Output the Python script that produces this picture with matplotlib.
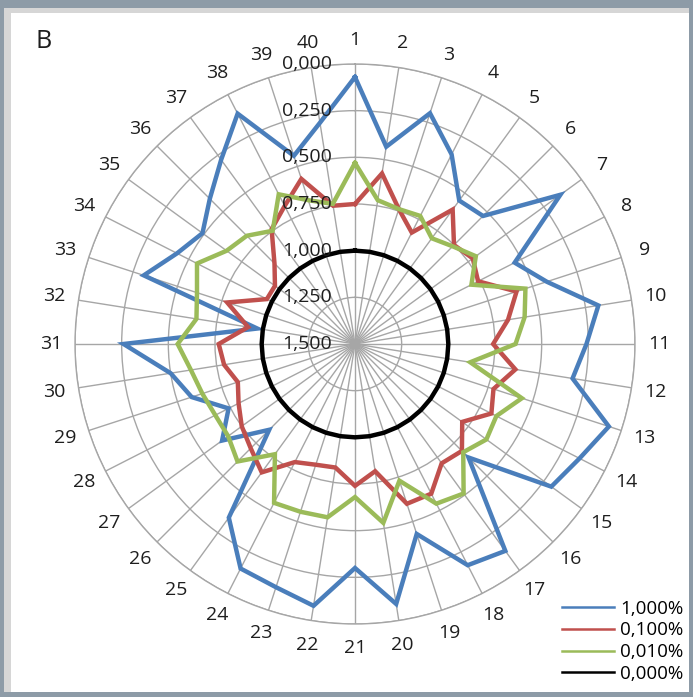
import numpy as np
import matplotlib
matplotlib.use('Agg')
import matplotlib.pyplot as plt
from matplotlib.patches import Rectangle
from matplotlib.lines import Line2D
import matplotlib.transforms as mtransforms

plt.rcParams['font.family'] = ['Open Sans', 'DejaVu Sans']

categories = [str(i) for i in range(1, 41)]

s_1000 = [0.07, 0.43, 0.20, 0.36, 0.55, 0.53, 0.14, 0.54, 0.42, 0.18,
          0.26, 0.32, 0.07, 0.15, 0.20, 0.64, 0.13, 0.17, 0.43, 0.09,
          0.30, 0.08, 0.13, 0.15, 0.35, 0.85, 0.62, 0.74, 0.58, 0.50,
          0.26, 0.97, 0.31, 0.43, 0.49, 0.40, 0.28, 0.115, 0.44, 0.30]
s_0100 = [0.75, 0.575, 0.74, 0.83, 0.61, 0.75, 0.72, 0.76, 0.59, 0.67,
          0.76, 0.63, 0.72, 0.68, 0.79, 0.69, 0.71, 0.60, 0.60, 0.81,
          0.74, 0.83, 0.82, 0.79, 0.65, 0.71, 0.75, 0.80, 0.84, 0.79,
          0.77, 0.92, 0.78, 0.97, 0.97, 0.89, 0.74, 0.67, 0.57, 0.75]
s_0010 = [0.53, 0.72, 0.74, 0.73, 0.80, 0.76, 0.70, 0.80, 0.54, 0.58,
          0.64, 0.875, 0.56, 0.65, 0.63, 0.68, 0.51, 0.54, 0.73, 0.53,
          0.68, 0.56, 0.555, 0.545, 0.77, 0.61, 0.66, 0.66, 0.64, 0.61,
          0.55, 0.64, 0.61, 0.55, 0.65, 0.68, 0.75, 0.60, 0.69, 0.74]
s_0000 = [1.0] * 40

series = [s_1000, s_0100, s_0010, s_0000]
series_labels = ['1,000%', '0,100%', '0,010%', '0,000%']
colors = ['#4A7EBB', '#C0504D', '#9BBB59', '#000000']

rticks = [0.0, 0.25, 0.5, 0.75, 1.0, 1.25, 1.5]
rtick_labels = ['0,000', '0,250', '0,500', '0,750', '1,000', '1,250', '1,500']

W, H = 693, 697
fig = plt.figure(figsize=(W / 100, H / 100), dpi=100)
fig.patch.set_facecolor('#8D9BA7')
fig.patches.append(Rectangle((4 / W, 5 / H), (689 - 4) / W, (689 - 5) / H,
                             transform=fig.transFigure, facecolor='#D6D6D6',
                             edgecolor='none', zorder=-20))
fig.patches.append(Rectangle((11 / W, 5 / H), (689 - 11) / W, (688 - 9) / H,
                             transform=fig.transFigure, facecolor='white',
                             edgecolor='none', zorder=-10))

cx, cy, R = 355, 344, 280
ax = fig.add_axes([(cx - R) / W, (H - cy - R) / H, 2 * R / W, 2 * R / H],
                  projection='polar')
ax.set_facecolor('white')
ax.set_theta_zero_location('N')
ax.set_theta_direction(-1)

angles = np.arange(len(categories)) * 2 * np.pi / len(categories)
ax.set_ylim(1.5, 0)

ax.set_xticks(angles)
ax.set_xticklabels(categories, fontsize=14, color='#1E1E1E')
ax.tick_params(axis='x', pad=7)
ax.set_yticks(rticks)
ax.set_yticklabels([])
ax.grid(True, color='#A6A6A6', lw=1.0)
ax.spines['polar'].set_color('#A6A6A6')
ax.spines['polar'].set_linewidth(1.0)

closed = np.append(angles, angles[0])
for vals, lab, col in zip(series, series_labels, colors):
    v = list(vals) + [vals[0]]
    ax.plot(closed, v, color=col, lw=3.2, label=lab, solid_joinstyle='miter')

off = mtransforms.offset_copy(ax.transData, fig=fig, x=-23, y=0, units='dots')
for r, l in zip(rticks, rtick_labels):
    ax.text(0, r, l, transform=off, ha='right', va='center', fontsize=14,
            color='#1E1E1E', zorder=10)

fig.text(35 / W, 1 - 42 / H, 'B', fontsize=18, color='#1E1E1E', va='center')

handles = [Line2D([0], [0], color=c, lw=1.8) for c in colors]
fig.legend(handles, series_labels, loc='lower right',
           bbox_to_anchor=(1.01, -0.004), frameon=False, fontsize=13.5,
           handlelength=2.8, handletextpad=0.3, labelspacing=0.2)

fig.savefig('out.png', dpi=100, facecolor=fig.get_facecolor())
